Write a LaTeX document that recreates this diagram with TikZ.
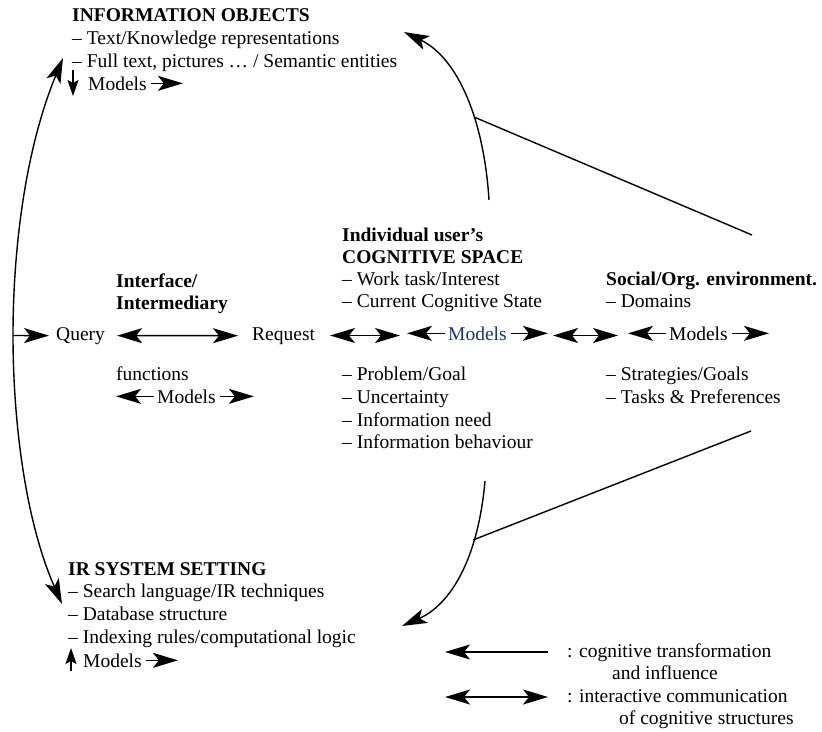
\documentclass[tikz,border=0pt]{standalone}
\usepackage{fontspec}
\setmainfont{Liberation Serif}
\usetikzlibrary{arrows.meta}
\newcommand{\myfs}{\fontsize{19.5}{23}\selectfont}
\definecolor{modblue}{RGB}{30,50,115}
\begin{document}
\begin{tikzpicture}[x=1pt,y=-1pt,
  txt/.style={anchor=base west, inner sep=0pt, font=\myfs},
  bt/.style={anchor=base west, inner sep=0pt, font=\myfs\bfseries},
  arr/.style={-{Stealth[length=25pt,width=15pt,inset=6pt]}, line width=1.4pt},
  dbl/.style={{Stealth[length=25pt,width=15pt,inset=6pt]}-{Stealth[length=25pt,width=15pt,inset=6pt]}, line width=1.4pt},
  sarr/.style={-{Stealth[length=16pt,width=11pt,inset=3pt]}, line width=1.4pt},
  plain/.style={line width=1.4pt}]
\fill[white] (0,0) rectangle (822,731);
\useasboundingbox (0,0) rectangle (822,731);

% INFORMATION OBJECTS
\node[bt]  (io0) at (72,21) {INFORMATION OBJECTS};
\node[txt] (io1) at (72,44) {– Text/Knowledge representations};
\node[txt] (io2) at (72,67) {– Full text, pictures … / Semantic entities};
\node[txt] (io3) at (88,90) {Models};
\coordinate (io3d1) at (73,70);
\coordinate (io3d2) at (73,96);
\draw[sarr] (io3d1) -- (io3d2);
\draw[arr] ([xshift=4pt]io3.east) -- ++(32,0);

% Interface
\node[bt]  (if1) at (116,287) {Interface/};
\node[bt]  (if2) at (116,309) {Intermediary};
\node[txt] (fn)  at (116,380) {functions};
\node[txt] (m3)  at (157,403) {Models};
\draw[arr] ([xshift=-3pt]m3.west) -- ++(-38,0);
\draw[arr] ([xshift=4pt]m3.east) -- ++(34,0);

% Cognitive space
\node[bt]  (cs0) at (342,241) {Individual user’s};
\node[bt]  (cs1) at (342,263) {COGNITIVE SPACE};
\node[txt] (cs2) at (342,285) {– Work task/Interest};
\node[txt] (cs3) at (342,307) {– Current Cognitive State};
\node[txt] (cs4) at (342,380) {– Problem/Goal};
\node[txt] (cs5) at (342,403) {– Uncertainty};
\node[txt] (cs6) at (342,426) {– Information need};
\node[txt] (cs7) at (342,448) {– Information behaviour};

% Social
\node[bt]  (so0) at (606,285) {Social/Org. environment.};
\node[txt] (so1) at (606,307) {– Domains};
\node[txt] (so2) at (606,380) {– Strategies/Goals};
\node[txt] (so3) at (606,403) {– Tasks \& Preferences};

% Middle row
\node[txt] (query) at (56,340) {Query};
\node[txt] (req)   at (252,340) {Request};
\node[txt, text=modblue] (m1) at (448,340) {Models};
\node[txt] (m2)    at (669,340) {Models};
\draw[dbl] ([xshift=12pt]query.east) -- ([xshift=-14pt]req.west);
\coordinate (d1a) at (330,335.5);
\coordinate (d1b) at (400,335.5);
\draw[dbl] (d1a) -- (d1b);
\draw[arr] ([xshift=-3pt]m1.west) -- ++(-38,0);
\draw[arr] ([xshift=4pt]m1.east) -- ++(37,0);
\coordinate (d2a) at (553,335.5);
\coordinate (d2b) at (618,335.5);
\draw[dbl] (d2a) -- (d2b);
\draw[arr] ([xshift=-3pt]m2.west) -- ++(-38,0);
\draw[arr] ([xshift=4pt]m2.east) -- ++(37,0);

% IR SYSTEM SETTING
\node[bt]  (ir0) at (68,575) {IR SYSTEM SETTING};
\node[txt] (ir1) at (68,597) {– Search language/IR techniques};
\node[txt] (ir2) at (68,620) {– Database structure};
\node[txt] (ir3) at (68,643) {– Indexing rules/computational logic};
\node[txt] (ir4) at (83,667) {Models};
\coordinate (ir4u1) at (71,671);
\coordinate (ir4u2) at (71,648);
\draw[sarr] (ir4u1) -- (ir4u2);
\draw[arr] ([xshift=4pt]ir4.east) -- ++(32,0);

% Left arc
\coordinate (arcTop) at (63,58);
\coordinate (arcMid) at (13,335.5);
\coordinate (arcBot) at (62,604);
\draw[dbl] (arcTop) .. controls (25,150) and (13,250) .. (arcMid) .. controls (13,420) and (25,520) .. (arcBot);
\draw[arr] (arcMid) -- ([xshift=-7pt]query.west);

% Top curve and line
\coordinate (tcS) at (489,200);
\coordinate (tcE) at (404,32);
\draw[arr] (tcS) .. controls (484,120) and (458,58) .. (tcE);
\coordinate (tcJ) at (474,117);
\coordinate (tlR) at (752,235);
\draw[plain] (tcJ) -- (tlR);

% Bottom curve and line
\coordinate (bcS) at (485,481);
\coordinate (bcE) at (402,626);
\draw[arr] (bcS) .. controls (478,560) and (450,605) .. (bcE);
\coordinate (bcJ) at (473,540);
\coordinate (blR) at (751,431);
\draw[plain] (bcJ) -- (blR);

% Legend
\node[txt] (lg1) at (567,657) {: cognitive transformation};
\node[txt] (lg2) at (612,679) {and influence};
\node[txt] (lg3) at (567,702) {: interactive communication};
\node[txt] (lg4) at (619,724) {of cognitive structures};
\coordinate (la1) at (548,652);
\coordinate (la2) at (445,652);
\draw[arr] (la1) -- (la2);
\coordinate (lb1) at (445,697);
\coordinate (lb2) at (548,697);
\draw[dbl] (lb1) -- (lb2);
\end{tikzpicture}
\end{document}
